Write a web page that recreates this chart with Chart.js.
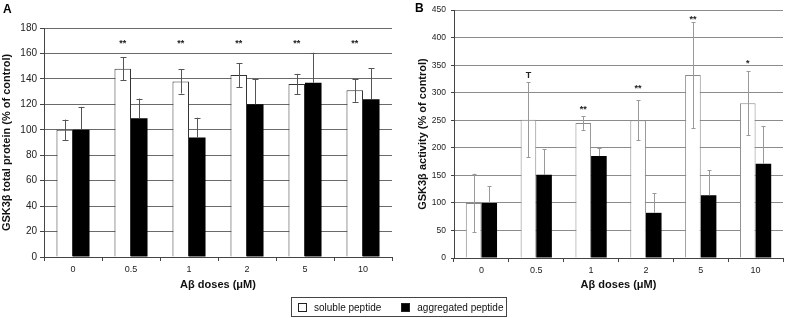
<!DOCTYPE html>
<html>
<head>
<meta charset="utf-8">
<script src="https://cdn.jsdelivr.net/npm/chart.js@4/dist/chart.umd.min.js"></script>
<style>
  body { margin: 0; background: #fff; font-family: "Liberation Sans", Arial, sans-serif; }
  #wrap { position: relative; width: 785px; height: 318px; overflow: hidden; }
  canvas { position: absolute; top: 0; }
  .letter { position: absolute; font-weight: bold; font-size: 12px; line-height: 12px; color: #000; }
  #legend { position: absolute; left: 291px; top: 297px; width: 214px; height: 18px;
            border: 1px solid #444; display: flex; align-items: center; font-size: 10px; color: #111;
            white-space: nowrap; }
  #legend .item { display: flex; align-items: center; margin-left: 6px; margin-right: 14px; }
  #legend .sw { width: 7px; height: 7px; border: 1px solid #222; margin-right: 7px; flex: none; }
</style>
</head>
<body>
<div id="wrap">
  <canvas id="chartA" width="393" height="318" style="left:0px"></canvas>
  <canvas id="chartB" width="392" height="318" style="left:393px"></canvas>
  <div class="letter" style="left:3px;top:3px">A</div>
  <div class="letter" style="left:415px;top:2px">B</div>
  <div id="legend"></div>
</div>
<script>
// categories
var doses = ['0', '0.5', '1', '2', '5', '10'];
var seriesNames = ['soluble peptide', 'aggregated peptide'];

// panel A: GSK3b total protein (% of control)
var totalSoluble = [100, 148, 138, 143, 136, 131];
var totalSolubleErr = [8, 9, 9.5, 9.5, 8, 9];
var totalAggregated = [100, 109, 94, 120, 137, 124];
var totalAggregatedErr = [18, 15.5, 15.5, 20, 23.5, 24.5];
var totalSigText = ['', '**', '**', '**', '**', '**'];
var totalSigAt = [null, 169, 169, 169, 169, 169];
var totalTicks = [0, 20, 40, 60, 80, 100, 120, 140, 160, 180];

// panel B: GSK3b activity (% of control)
var activitySoluble = [100, 251, 245, 250, 332, 281];
var activitySolubleErr = [53, 68, 12.5, 36, 96, 58];
var activityAggregated = [100, 151, 185, 82, 114, 171];
var activityAggregatedErr = [30, 46, 14, 36, 45, 68];
var activitySigText = ['', 'T', '**', '**', '**', '*'];
var activitySigAt = [null, 331, 274, 311, 437, 356];
var activityTicks = [0, 50, 100, 150, 200, 250, 300, 350, 400, 450];

var FONT = '"Liberation Sans", Arial, sans-serif';

// error bars, drawn from the bar elements and the y scale
var errorBars = {
    id: 'errorBars',
    afterDatasetsDraw: function (chart, args, opts) {
        var ctx = chart.ctx;
        var y = chart.scales.y;
        ctx.save();
        ctx.strokeStyle = opts.color;
        ctx.lineWidth = 1;
        chart.data.datasets.forEach(function (ds, i) {
            var meta = chart.getDatasetMeta(i);
            var errs = opts.errors[i];
            meta.data.forEach(function (bar, j) {
                var v = ds.data[j], e = errs[j];
                var x = Math.round(bar.x) + 0.5;
                var top = y.getPixelForValue(v + e);
                var bottom = opts.upOnly[i] ? y.getPixelForValue(v) : y.getPixelForValue(v - e);
                ctx.beginPath();
                ctx.moveTo(x, top);
                ctx.lineTo(x, bottom);
                ctx.moveTo(x - opts.cap, Math.round(top) + 0.5);
                ctx.lineTo(x + opts.cap, Math.round(top) + 0.5);
                if (!opts.upOnly[i]) {
                    ctx.moveTo(x - opts.cap, Math.round(bottom) + 0.5);
                    ctx.lineTo(x + opts.cap, Math.round(bottom) + 0.5);
                }
                ctx.stroke();
            });
        });
        ctx.restore();
    }
};

// significance marks above the soluble bars
var sigMarks = {
    id: 'sigMarks',
    afterDatasetsDraw: function (chart, args, opts) {
        var ctx = chart.ctx;
        var y = chart.scales.y;
        var meta = chart.getDatasetMeta(0);
        ctx.save();
        ctx.fillStyle = '#222';
        ctx.textAlign = 'center';
        ctx.textBaseline = 'middle';
        ctx.font = 'bold 9px ' + FONT;
        opts.text.forEach(function (t, j) {
            if (!t) return;
            var isStar = t.indexOf('*') >= 0;
            ctx.fillText(t, meta.data[j].x, y.getPixelForValue(opts.at[j]) + (isStar ? 2 : 0));
        });
        ctx.restore();
    }
};

function makeChart(id, cfg) {
    return new Chart(document.getElementById(id).getContext('2d'), {
        type: 'bar',
        data: {
            labels: doses,
            datasets: [{
                label: seriesNames[0],
                data: cfg.soluble,
                backgroundColor: '#fff',
                borderColor: cfg.barBorder,
                borderWidth: 1,
                categoryPercentage: 0.57,
                barPercentage: 1.0
            }, {
                label: seriesNames[1],
                data: cfg.aggregated,
                backgroundColor: '#000',
                borderWidth: 0,
                categoryPercentage: 0.57,
                barPercentage: 1.0
            }]
        },
        options: {
            responsive: false,
            animation: false,
            devicePixelRatio: 1,
            layout: { padding: cfg.padding },
            plugins: {
                legend: { display: false },
                tooltip: { enabled: false },
                errorBars: { color: cfg.errColor, cap: cfg.cap, errors: cfg.errors, upOnly: [false, true] },
                sigMarks: { text: cfg.sigText, at: cfg.sigAt }
            },
            scales: {
                x: {
                    afterFit: function (axis) { axis.height = cfg.xHeight; },
                    grid: { drawOnChartArea: false, drawTicks: true, tickLength: 4, color: '#444' },
                    border: { color: '#444' },
                    ticks: { color: '#222', font: { family: FONT, size: 9 }, padding: 3 },
                    title: { display: true, text: 'A\u03b2 doses (\u03bcM)', color: '#111',
                             font: { family: FONT, size: 11, weight: 'bold' }, padding: { top: 0, bottom: 26 } }
                },
                y: {
                    min: cfg.ticks[0],
                    max: cfg.ticks[cfg.ticks.length - 1],
                    afterFit: function (axis) { axis.width = cfg.yWidth; },
                    grid: { color: cfg.gridColor, tickLength: cfg.tickLen, tickColor: '#444' },
                    border: { color: '#444' },
                    ticks: { stepSize: cfg.ticks[1] - cfg.ticks[0], color: '#222',
                             font: { family: FONT, size: cfg.tickSize }, padding: cfg.tickPad },
                    title: { display: true, text: cfg.yTitle, color: '#111',
                             font: { family: FONT, size: 11, weight: 'bold' }, padding: { top: cfg.yTitlePad, bottom: 0 } }
                }
            }
        },
        plugins: [errorBars, sigMarks]
    });
}

makeChart('chartA', {
    soluble: totalSoluble,
    aggregated: totalAggregated,
    errors: [totalSolubleErr, totalAggregatedErr],
    sigText: totalSigText,
    sigAt: totalSigAt,
    ticks: totalTicks,
    yTitle: 'GSK3\u03b2 total protein (% of control)',
    barBorder: '#333',
    errColor: '#555',
    gridColor: '#6a6a6a',
    cap: 3,
    padding: { top: 28, left: 0, right: 1, bottom: 0 },
    yWidth: 44,
    xHeight: 61,
    tickSize: 10,
    tickLen: 4,
    tickPad: 3,
    yTitlePad: 0
});

makeChart('chartB', {
    soluble: activitySoluble,
    aggregated: activityAggregated,
    errors: [activitySolubleErr, activityAggregatedErr],
    sigText: activitySigText,
    sigAt: activitySigAt,
    ticks: activityTicks,
    yTitle: 'GSK3\u03b2 activity (% of control)',
    barBorder: '#888',
    errColor: '#999',
    gridColor: '#8c8c8c',
    cap: 2,
    padding: { top: 5, left: 0, right: 2, bottom: 0 },
    yWidth: 61,
    xHeight: 60,
    tickSize: 8.5,
    tickLen: 3,
    tickPad: 5,
    yTitlePad: 23
});

// legend shared by both panels
var legend = document.getElementById('legend');
['#fff', '#000'].forEach(function (c, i) {
    var item = document.createElement('div');
    item.className = 'item';
    var sw = document.createElement('span');
    sw.className = 'sw';
    sw.style.background = c;
    var label = document.createElement('span');
    label.textContent = seriesNames[i];
    item.appendChild(sw);
    item.appendChild(label);
    legend.appendChild(item);
});
</script>
</body>
</html>
